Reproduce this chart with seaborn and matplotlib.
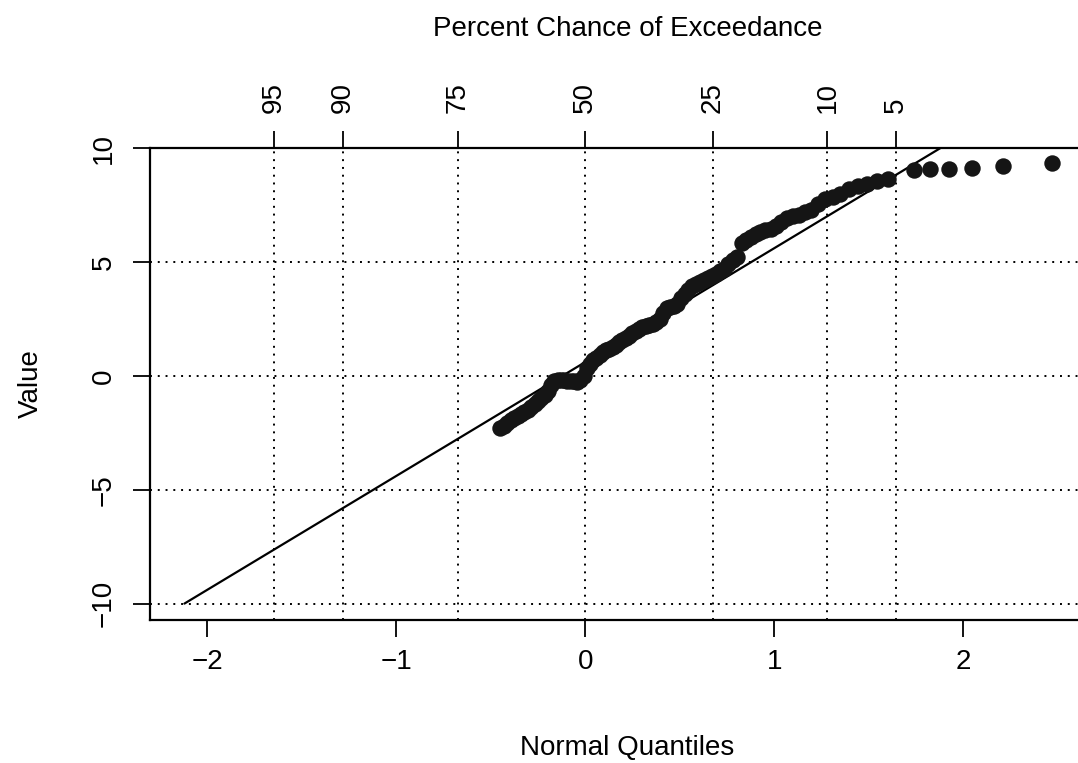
import matplotlib
matplotlib.use("Agg")
import matplotlib.pyplot as plt
import numpy as np
import pandas as pd
import seaborn as sns
from statistics import NormalDist

# ---------------- data ----------------
n_total = 146
ranks = list(range(48, 140)) + list(range(141, 147))
values = [
    -2.30, -2.21, -2.08, -1.95, -1.86, -1.78, -1.69, -1.58, -1.49, -1.38,
    -1.25, -1.12, -0.99, -0.86, -0.68, -0.42, -0.24, -0.20, -0.20, -0.20,
    -0.22, -0.24, -0.24, -0.26, -0.20, -0.02, 0.33, 0.50, 0.68, 0.79,
    0.90, 1.03, 1.12, 1.18, 1.25, 1.34, 1.47, 1.56, 1.64, 1.75,
    1.86, 1.95, 2.04, 2.13, 2.17, 2.21, 2.26, 2.35, 2.48, 2.74,
    2.96, 3.00, 3.05, 3.14, 3.40, 3.57, 3.75, 3.93, 4.01, 4.10,
    4.19, 4.28, 4.36, 4.45, 4.58, 4.71, 4.89, 5.07, 5.20, 5.84,
    5.96, 6.10, 6.23, 6.31, 6.38, 6.45, 6.56, 6.73, 6.91, 7.00,
    7.08, 7.17, 7.26, 7.52, 7.74, 7.87, 8.00, 8.18, 8.31, 8.44,
    8.53, 8.66,
    9.04, 9.06, 9.06, 9.11, 9.20, 9.33,
]
fit_mean = 0.6
fit_sd = 5.0
exceed_pct = [95, 90, 75, 50, 25, 10, 5]
x_ticks = [-2, -1, 0, 1, 2]
y_ticks = [-10, -5, 0, 5, 10]

title_top = "Percent Chance of Exceedance"
x_label = "Normal Quantiles"
y_label = "Value"

# ---------------- derived ----------------
nd = NormalDist()
q = [nd.inv_cdf(r / (n_total + 1)) for r in ranks]
df = pd.DataFrame({"q": q, "value": values})
line_y = [y_ticks[0], y_ticks[-1]]
line_df = pd.DataFrame({"q": [(v - fit_mean) / fit_sd for v in line_y], "value": line_y})
exceed_q = [nd.inv_cdf(1 - p / 100) for p in exceed_pct]

# ---------------- style ----------------
sns.set_style("white")
plt.rcParams["font.family"] = ["Liberation Sans", "DejaVu Sans"]
plt.rcParams["axes.edgecolor"] = "black"
plt.rcParams["axes.labelcolor"] = "black"
plt.rcParams["text.color"] = "black"
plt.rcParams["xtick.color"] = "black"
plt.rcParams["ytick.color"] = "black"

FS = 20
fig = plt.figure(figsize=(10.78, 7.63), dpi=100)
W, H = 1078, 763
ax = fig.add_axes([150 / W, 1 - 620 / H, (1105 - 150) / W, (620 - 148) / H])

# grid (dotted)
grid_kw = dict(color="black", lw=1.4, linestyle=(0, (1, 3.0)), zorder=1)
for yv in y_ticks:
    ax.axhline(yv, **grid_kw)
for xv in exceed_q:
    ax.axvline(xv, **grid_kw)

sns.lineplot(data=line_df, x="q", y="value", ax=ax, color="black", lw=1.6, zorder=2)
sns.scatterplot(data=df, x="q", y="value", ax=ax, s=140, color="#151515",
                edgecolor="#151515", linewidth=0, zorder=3)

ax.set_xlim(-2.302, 2.75)
ax.set_ylim(-10.72, 10.0)

for side in ["left", "bottom", "top"]:
    ax.spines[side].set_linewidth(1.6)
    ax.spines[side].set_color("black")
ax.spines["right"].set_visible(False)

ax.set_xticks(x_ticks)
ax.set_xticklabels([str(v).replace("-", "\u2212") for v in x_ticks])
ax.set_yticks(y_ticks)
ax.set_yticklabels([str(v).replace("-", "\u2212") for v in y_ticks])
ax.tick_params(axis="both", direction="out", length=12, width=1.3,
               labelsize=FS, pad=9, bottom=True, left=True,
               labelcolor="black")
ax.tick_params(axis="y", labelrotation=90, pad=12)
for lab in ax.get_yticklabels():
    lab.set_va("center")

ax.set_xlabel(x_label, fontsize=FS, labelpad=43)
ax.set_ylabel(y_label, fontsize=FS, labelpad=34)

ax2 = ax.twiny()
ax2.set_xlim(ax.get_xlim())
ax2.set_xticks(exceed_q)
ax2.set_xticklabels([str(p) for p in exceed_pct], rotation=90)
ax2.tick_params(axis="x", direction="out", length=12, width=1.3,
                labelsize=FS, pad=13, top=True, labelcolor="black")
for s in ax2.spines.values():
    s.set_visible(False)
ax2.patch.set_visible(False)
ax2.set_xlabel(title_top, fontsize=FS, labelpad=33)

fig.savefig("out.png", dpi=100, facecolor="white")
